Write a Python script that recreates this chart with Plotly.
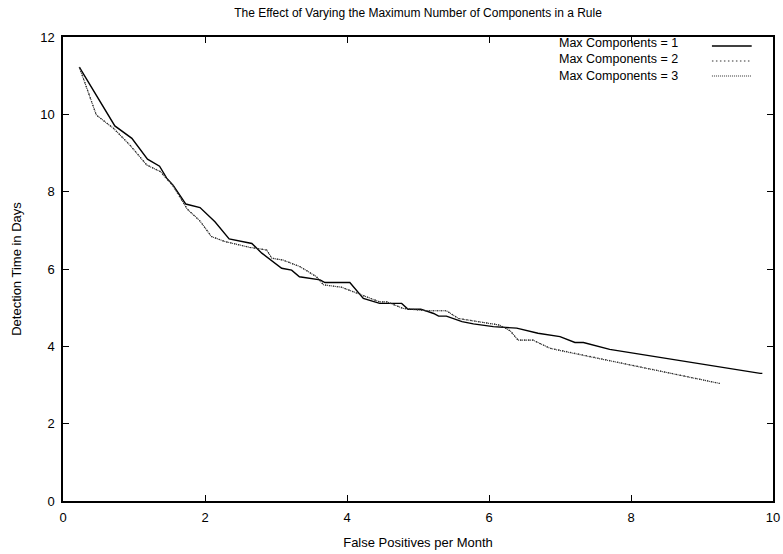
import plotly.graph_objects as go

# Max Components = 1 (solid)
x1 = [0.23, 0.73, 0.97, 1.19, 1.36, 1.46, 1.55, 1.73, 1.93, 2.14, 2.34, 2.52, 2.66, 2.80,
      3.08, 3.22, 3.33, 3.62, 3.69, 4.04, 4.11, 4.23, 4.46, 4.77, 4.86, 5.04, 5.22, 5.29,
      5.40, 5.62, 5.78, 6.06, 6.39, 6.69, 7.00, 7.21, 7.33, 7.70, 9.82, 9.85]
y1 = [11.22, 9.70, 9.38, 8.84, 8.66, 8.35, 8.17, 7.68, 7.59, 7.22, 6.78, 6.72, 6.66, 6.41,
      6.02, 5.97, 5.80, 5.72, 5.65, 5.65, 5.50, 5.24, 5.11, 5.11, 4.96, 4.96, 4.85, 4.78,
      4.78, 4.64, 4.58, 4.51, 4.47, 4.34, 4.25, 4.10, 4.10, 3.92, 3.30, 3.30]

# Max Components = 2 (dotted, overlaps series 3 almost everywhere)
x2 = [0.23, 0.47, 0.71, 0.94, 1.18, 1.37, 1.55, 1.75, 1.93, 2.09, 2.28, 2.63, 2.87, 2.94,
      3.10, 3.34, 3.57, 3.67, 3.92, 4.09, 4.35, 4.46, 4.56, 4.79, 5.12, 5.40, 5.57, 5.87,
      6.15, 6.30, 6.41, 6.62, 6.86, 7.00, 9.25]
y2 = [11.22, 9.98, 9.64, 9.21, 8.69, 8.52, 8.15, 7.55, 7.24, 6.84, 6.71, 6.56, 6.49, 6.28,
      6.23, 6.06, 5.80, 5.59, 5.53, 5.41, 5.21, 5.15, 5.15, 4.98, 4.92, 4.92, 4.72, 4.64,
      4.55, 4.40, 4.16, 4.16, 3.95, 3.90, 3.04]

# Max Components = 3 (fine dotted)
x3 = [0.23, 0.47, 0.71, 0.94, 1.18, 1.37, 1.55, 1.75, 1.93, 2.09, 2.28, 2.63, 2.87, 2.94,
      3.10, 3.34, 3.57, 3.67, 3.92, 4.09, 4.35, 4.46, 4.56, 4.79, 5.12, 5.40, 5.57, 5.87,
      6.15, 6.30, 6.41, 6.62, 6.86, 7.00, 9.25]
y3 = [11.22, 9.98, 9.64, 9.21, 8.69, 8.52, 8.15, 7.55, 7.24, 6.84, 6.71, 6.56, 6.49, 6.28,
      6.23, 6.06, 5.80, 5.59, 5.53, 5.41, 5.21, 5.15, 5.15, 4.98, 4.92, 4.92, 4.72, 4.64,
      4.55, 4.40, 4.16, 4.16, 3.95, 3.89, 3.04]

names = ["Max Components = 1", "Max Components = 2", "Max Components = 3"]
dashes = ["solid", "1.5px,2.5px", "1px,1px"]
widths = [1.4, 1.2, 1.1]
colors = ["#000000", "#333333", "#333333"]

FONT = "Liberation Sans, Arial, sans-serif"

fig = go.Figure()
for xs, ys, n, d, w, c in zip([x1, x2, x3], [y1, y2, y3], names, dashes, widths, colors):
    fig.add_trace(go.Scatter(x=xs, y=ys, mode="lines", name=n, showlegend=False,
                             line=dict(color=c, width=w, dash=d)))

# Legend drawn gnuplot-style: text on the left, line sample on the right
PLOT_H = 464.0
row_px = [45, 60, 75]  # pixel rows from top of figure
fig.add_annotation(xref="paper", yref="paper", x=0.869, y=(501 - 60) / PLOT_H,
                   text="<br>".join(names), align="right",
                   showarrow=False, xanchor="right", yanchor="middle",
                   font=dict(family=FONT, size=12.5, color="black"))
for i, (d, w, c) in enumerate(zip(dashes, widths, colors)):
    yp = (501 - (row_px[i] + 1)) / PLOT_H
    fig.add_shape(type="line", xref="paper", yref="paper", x0=0.914, x1=0.970,
                  y0=yp, y1=yp, line=dict(color=c, width=w, dash=d))

axis_common = dict(showgrid=False, zeroline=False, showline=True, linecolor="black",
                   linewidth=1.5, mirror="allticks", ticks="inside", ticklen=6,
                   tickcolor="black", tickwidth=1, automargin=False,
                   tickfont=dict(family=FONT, size=13, color="black"))

fig.update_layout(
    width=783, height=554,
    margin=dict(l=63, r=10, t=37, b=53),
    paper_bgcolor="white", plot_bgcolor="white",
    title=dict(text="The Effect of Varying the Maximum Number of Components in a Rule",
               x=(63 + 710 / 2) / 783, xanchor="center", y=1 - 13 / 554, yanchor="middle",
               font=dict(family=FONT, size=12, color="black")),
    xaxis=dict(range=[0, 10], tickvals=[0, 2, 4, 6, 8, 10], ticklabelstandoff=4,
               title=dict(text="False Positives per Month", standoff=14,
                          font=dict(family=FONT, size=13, color="black")),
               **axis_common),
    yaxis=dict(range=[0, 12], tickvals=[0, 2, 4, 6, 8, 10, 12], ticklabelstandoff=4,
               title=dict(text="Detection Time in Days", standoff=16,
                          font=dict(family=FONT, size=13, color="black")),
               **axis_common),
    showlegend=False,
)

fig.write_html("out.html")
